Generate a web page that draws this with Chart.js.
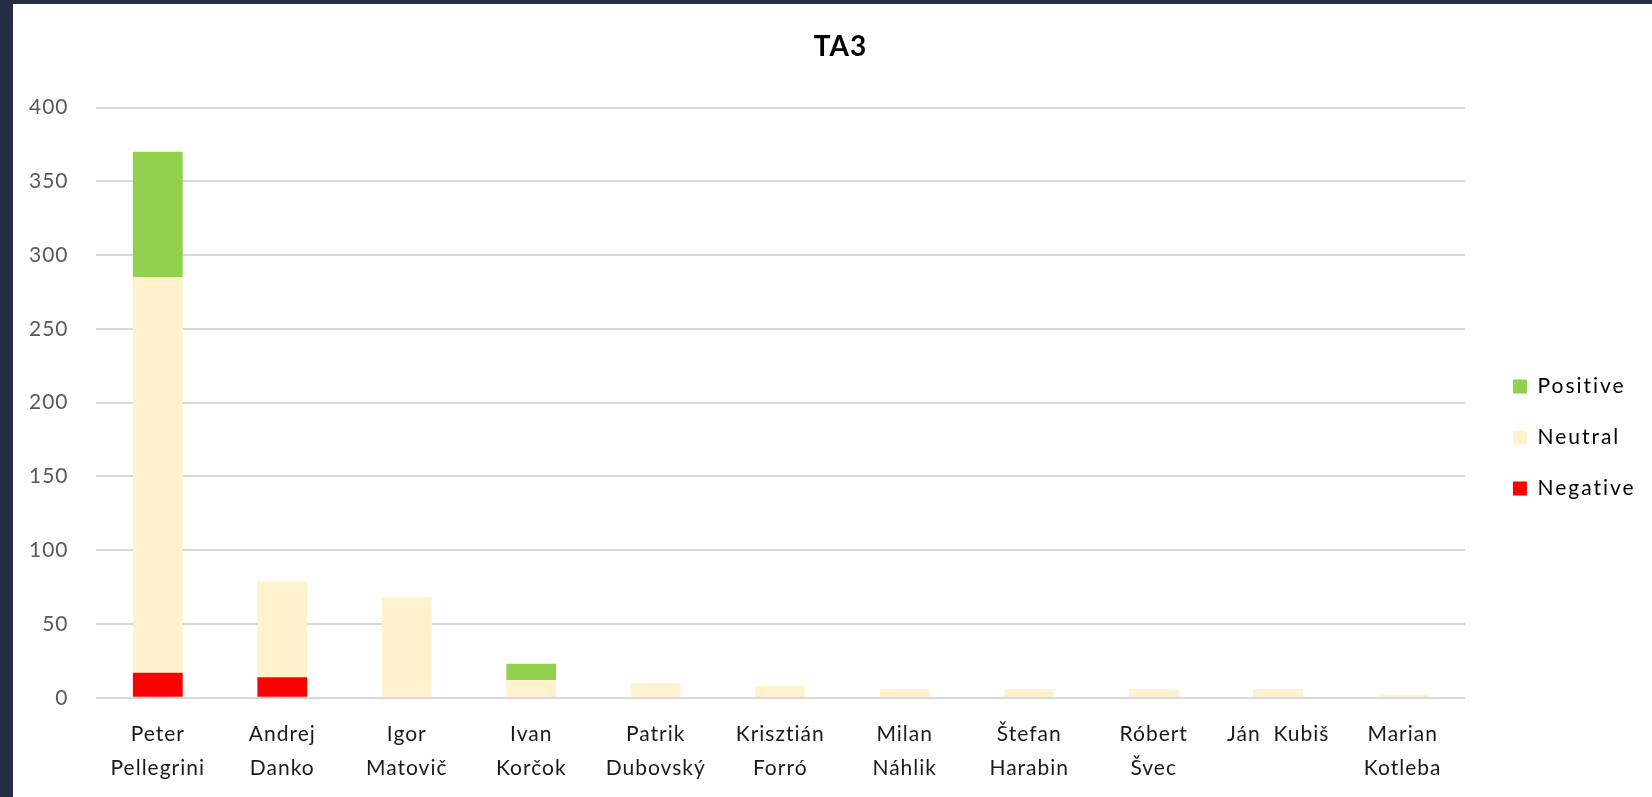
<!DOCTYPE html>
<html>
<head>
<meta charset="utf-8">
<script src="https://cdn.jsdelivr.net/npm/chart.js@4"></script>
<style>
  html, body { margin: 0; padding: 0; background: #242d42; }
  #wrap { position: absolute; left: 13px; top: 4px; width: 1639px; height: 793px; background: #fff; }
</style>
</head>
<body>
<div id="wrap"><canvas id="myChart"></canvas></div>
<script>
// kandidati a pocty clankov podla sentimentu
const candidates = [
  ['Peter', 'Pellegrini'],
  ['Andrej', 'Danko'],
  ['Igor', 'Matovič'],
  ['Ivan', 'Korčok'],
  ['Patrik', 'Dubovský'],
  ['Krisztián', 'Forró'],
  ['Milan', 'Náhlik'],
  ['Štefan', 'Harabin'],
  ['Róbert', 'Švec'],
  ['Ján  Kubiš'],
  ['Marian', 'Kotleba'],
];
const negative = [17, 14, 0, 0, 0, 0, 0, 0, 0, 0, 0];
const neutral = [268, 65, 68, 12, 10, 8, 6, 6, 6, 6, 2];
const positive = [85, 0, 0, 11, 0, 0, 0, 0, 0, 0, 0];
const yTicks = [0, 50, 100, 150, 200, 250, 300, 350, 400];

const font = 'Lato, "Open Sans", sans-serif';

const data = {
  labels: candidates,
  datasets: [
    { label: 'Negative', data: negative, backgroundColor: '#ff0000' },
    { label: 'Neutral', data: neutral, backgroundColor: '#fff2cc' },
    { label: 'Positive', data: positive, backgroundColor: '#92d050' },
  ],
};

// posun legendy a titulku, trochu sirsie pismo ako v povodnom grafe
const nudge = {
  id: 'nudge',
  afterInit(chart) {
    const legend = chart.legend;
    const drawLegend = legend.draw.bind(legend);
    legend.draw = function (area) {
      const right = this.right;
      this.right = right + 60; // aby sa text neorezal
      this.ctx.save();
      this.ctx.letterSpacing = '2px';
      drawLegend(area);
      this.ctx.restore();
      this.right = right;
    };
    const title = chart.titleBlock;
    const drawTitle = title.draw.bind(title);
    title.draw = function (area) {
      this.ctx.save();
      this.ctx.translate(32, 0);
      drawTitle(area);
      this.ctx.restore();
    };
  },
  afterLayout(chart) {
    const l = chart.legend;
    l.left += 18; l.right += 18;
    l.top += 37; l.bottom += 37;
  },
  beforeDraw(chart) { chart.ctx.letterSpacing = '1px'; },
  afterDraw(chart) { chart.ctx.letterSpacing = '0px'; },
};

const config = {
  type: 'bar',
  data: data,
  plugins: [nudge],
  options: {
    responsive: true,
    maintainAspectRatio: false,
    animation: false,
    barPercentage: 0.4,
    categoryPercentage: 1.0,
    layout: { padding: { left: -8, right: 40, bottom: 0 } },
    plugins: {
      title: {
        display: true,
        text: 'TA3',
        color: '#000',
        font: { family: font, size: 28, weight: 'bold' },
        padding: { top: 26, bottom: 44 },
      },
      legend: {
        position: 'right',
        reverse: true,
        labels: {
          boxWidth: 14,
          boxHeight: 14,
          padding: 30,
          color: '#000',
          font: { family: font, size: 21 },
        },
      },
      tooltip: { enabled: false },
    },
    scales: {
      x: {
        stacked: true,
        grid: { display: false },
        border: { display: false },
        ticks: {
          color: '#1a1a1a',
          maxRotation: 0,
          autoSkip: false,
          padding: 12,
          font: { family: font, size: 21, lineHeight: 1.6 },
        },
      },
      y: {
        stacked: true,
        min: yTicks[0],
        max: yTicks[yTicks.length - 1],
        border: { display: false },
        grid: { color: '#d9d9d9', lineWidth: 2, drawTicks: false },
        ticks: {
          stepSize: 50,
          color: '#595959',
          padding: 27,
          font: { family: font, size: 21 },
        },
      },
    },
  },
};

const myChart = new Chart(document.getElementById('myChart'), config);
</script>
</body>
</html>
